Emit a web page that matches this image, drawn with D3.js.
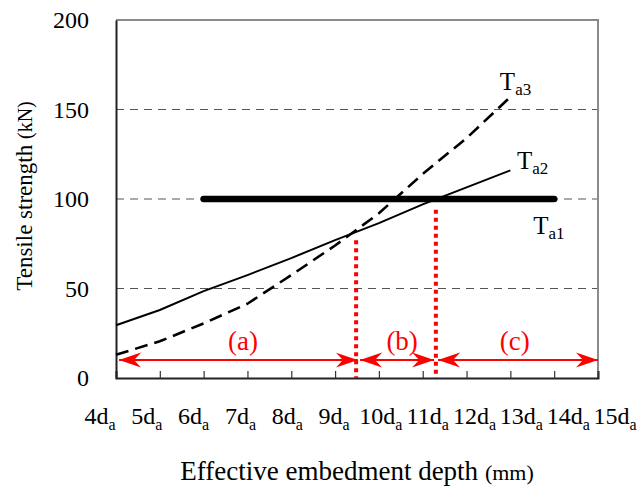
<!DOCTYPE html>
<html>
<head>
<meta charset="utf-8">
<script src="https://cdn.jsdelivr.net/npm/d3@7"></script>
<style>
  body { margin: 0; background: #fff; }
  text { font-family: "Liberation Serif", "Times New Roman", serif; }
</style>
</head>
<body>
<div id="chart"></div>
<script>
var width = 643;
var height = 486;

var margin = { top: 20, right: 45, bottom: 108, left: 116 };

// embedment depth, in multiples of d_a
var depths = [4, 5, 6, 7, 8, 9, 10, 11, 12, 13];
var ta2Values = [29.5, 38, 48.5, 57.5, 67, 77, 86.5, 97, 106.5, 116];
var ta3Values = [13, 20.5, 30.5, 41.5, 57.5, 74, 92, 114, 134, 157];

var ta1Depths = [6, 14];
var ta1Values = [100, 100];

var xTicks = [4, 5, 6, 7, 8, 9, 10, 11, 12, 13, 14, 15];
var yTicks = [0, 50, 100, 150, 200];
var gridValues = [50, 100, 150];

// red range markers
var splitDepths = [9.48, 11.3];
var splitTops = [77, 94];
var rangeStarts = [4.07, 9.57, 11.35];
var rangeEnds = [9.52, 11.26, 15];
var rangeNames = ["(a)", "(b)", "(c)"];
var rangeLabelDepths = [6.9, 10.53, 13.1];
var rangeArrowValue = 10;
var rangeLabelValue = 15.6;

// curve labels
var curveNames = ["a1", "a2", "a3"];
var curveLabelDepths = [13.52, 13.15, 12.76];
var curveLabelValues = [80.5, 116.5, 161];

var innerW = width - margin.left - margin.right;
var innerH = height - margin.top - margin.bottom;

var svg = d3.select("#chart").append("svg")
    .attr("width", width)
    .attr("height", height);

var g = svg.append("g")
    .attr("transform", "translate(" + margin.left + "," + margin.top + ")");

var x = d3.scaleLinear().domain([4, 15]).range([0, innerW]);
var y = d3.scaleLinear().domain([0, 200]).range([innerH, 0]);

// labels under the axis are spread a bit wider than the ticks
var xLabel = d3.scaleLinear().domain([4, 15]).range([-16, 499]);

// gridlines
g.selectAll("line.grid")
    .data(gridValues)
    .enter()
    .append("line")
    .attr("class", "grid")
    .attr("x1", 0)
    .attr("x2", innerW)
    .attr("y1", function (d) { return y(d); })
    .attr("y2", function (d) { return y(d); })
    .attr("stroke", "#555")
    .attr("stroke-width", 1)
    .attr("stroke-dasharray", "8,6");

// plot border top / right in grey
g.append("path")
    .attr("d", "M0,0H" + innerW + "V" + innerH)
    .attr("fill", "none")
    .attr("stroke", "#8a8a8a")
    .attr("stroke-width", 2);

// bottom axis with inside ticks
var xAxis = g.append("g")
    .attr("transform", "translate(0," + innerH + ")")
    .call(d3.axisBottom(x).tickValues(xTicks).tickSize(-7).tickFormat(""));
xAxis.select(".domain").attr("stroke", "#222").attr("stroke-width", 2);
xAxis.selectAll(".tick line").attr("stroke", "#333").attr("stroke-width", 1.2);

// left axis
var yAxis = g.append("g")
    .call(d3.axisLeft(y).tickValues(yTicks).tickSize(0).tickPadding(27));
yAxis.select(".domain").attr("stroke", "#222").attr("stroke-width", 2);
yAxis.selectAll(".tick text")
    .attr("font-size", "24px")
    .attr("fill", "#000")
    .attr("font-family", "Liberation Serif, Times New Roman, serif");

// x tick labels with subscript
var xt = g.selectAll("text.xtick")
    .data(xTicks)
    .enter()
    .append("text")
    .attr("class", "xtick")
    .attr("x", function (d) { return xLabel(d); })
    .attr("y", innerH + 46)
    .attr("text-anchor", "middle")
    .attr("font-size", "24px")
    .attr("fill", "#000");
xt.append("tspan").text(function (d) { return d + "d"; });
xt.append("tspan").attr("font-size", "16px").attr("dy", 6).text("a");

// axis titles
var xTitle = g.append("text")
    .attr("x", innerW / 2)
    .attr("y", innerH + 102)
    .attr("text-anchor", "middle")
    .attr("fill", "#000")
    .attr("font-size", "27px");
xTitle.append("tspan").text("Effective embedment depth ");
xTitle.append("tspan").attr("font-size", "22px").text("(mm)");

var yTitle = g.append("text")
    .attr("transform", "translate(-84," + (innerH / 2 - 3) + ") rotate(-90)")
    .attr("text-anchor", "middle")
    .attr("fill", "#000")
    .attr("font-size", "23px");
yTitle.append("tspan").text("Tensile strength ");
yTitle.append("tspan").attr("font-size", "20px").text("(kN)");

// curves
var line = d3.line()
    .x(function (d) { return x(d[0]); })
    .y(function (d) { return y(d[1]); });

g.append("path")
    .datum(d3.zip(depths, ta3Values))
    .attr("d", line)
    .attr("fill", "none")
    .attr("stroke", "#000")
    .attr("stroke-width", 2.6)
    .attr("stroke-dasharray", "13,7");

g.append("path")
    .datum(d3.zip(depths, ta2Values))
    .attr("d", line)
    .attr("fill", "none")
    .attr("stroke", "#000")
    .attr("stroke-width", 2);

g.append("path")
    .datum(d3.zip(ta1Depths, ta1Values))
    .attr("d", line)
    .attr("fill", "none")
    .attr("stroke", "#000")
    .attr("stroke-width", 6.5)
    .attr("stroke-linecap", "round");

// curve labels
var cl = g.selectAll("text.curve")
    .data(curveNames)
    .enter()
    .append("text")
    .attr("class", "curve")
    .attr("x", function (d, i) { return x(curveLabelDepths[i]); })
    .attr("y", function (d, i) { return y(curveLabelValues[i]); })
    .attr("font-size", "25px")
    .attr("fill", "#000");
cl.append("tspan").text("T");
cl.append("tspan").attr("font-size", "17px").attr("dy", 5).text(function (d) { return d; });

// red split lines
g.selectAll("line.split")
    .data(splitDepths)
    .enter()
    .append("line")
    .attr("class", "split")
    .attr("x1", function (d) { return x(d); })
    .attr("x2", function (d) { return x(d); })
    .attr("y1", function (d, i) { return y(splitTops[i]); })
    .attr("y2", y(0))
    .attr("stroke", "#ff0000")
    .attr("stroke-width", 4)
    .attr("stroke-dasharray", "4,4");

// arrow head
var defs = svg.append("defs");
defs.append("marker")
    .attr("id", "head")
    .attr("markerUnits", "userSpaceOnUse")
    .attr("viewBox", "-22 -8 23 16")
    .attr("refX", 0)
    .attr("refY", 0)
    .attr("markerWidth", 23)
    .attr("markerHeight", 16)
    .attr("orient", "auto-start-reverse")
    .append("path")
    .attr("d", "M0,0L-22,-7.5L-15,0L-22,7.5Z")
    .attr("fill", "#ff0000");

g.selectAll("line.range")
    .data(rangeStarts)
    .enter()
    .append("line")
    .attr("class", "range")
    .attr("x1", function (d) { return x(d); })
    .attr("x2", function (d, i) { return x(rangeEnds[i]); })
    .attr("y1", y(rangeArrowValue))
    .attr("y2", y(rangeArrowValue))
    .attr("stroke", "#ff0000")
    .attr("stroke-width", 2)
    .attr("marker-start", "url(#head)")
    .attr("marker-end", "url(#head)");

g.selectAll("text.range")
    .data(rangeNames)
    .enter()
    .append("text")
    .attr("class", "range")
    .attr("x", function (d, i) { return x(rangeLabelDepths[i]); })
    .attr("y", y(rangeLabelValue))
    .attr("text-anchor", "middle")
    .attr("font-size", "27px")
    .attr("fill", "#ff0000")
    .text(function (d) { return d; });
</script>
</body>
</html>
